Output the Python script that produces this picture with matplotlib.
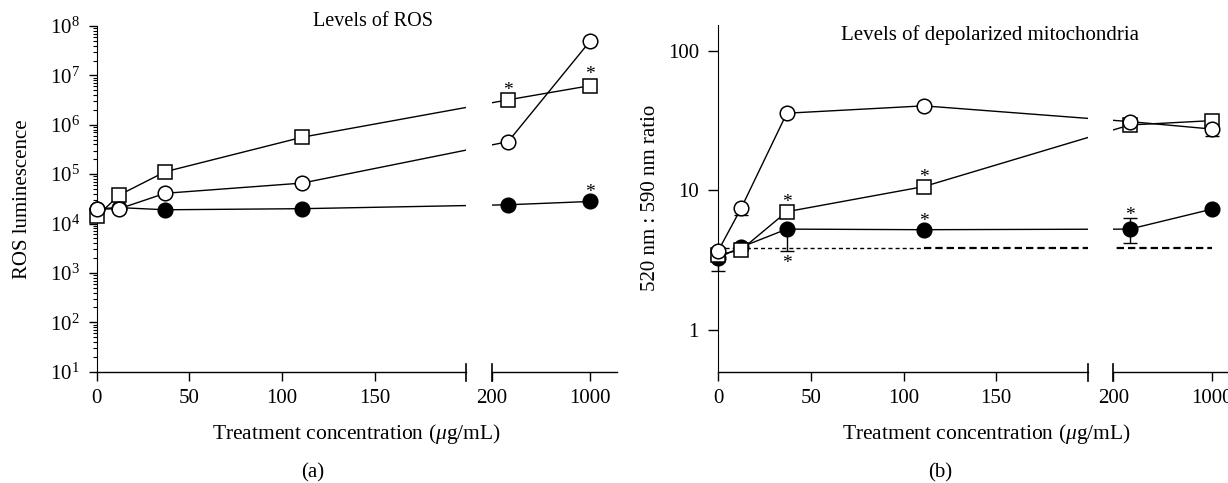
import numpy as np
import matplotlib
matplotlib.use('Agg')
import matplotlib.pyplot as plt
from matplotlib.ticker import FixedLocator, NullLocator, FuncFormatter

plt.rcParams['font.family'] = ['Liberation Serif', 'DejaVu Serif']
plt.rcParams['mathtext.fontset'] = 'custom'
plt.rcParams['mathtext.rm'] = 'Liberation Serif'
plt.rcParams['mathtext.it'] = 'Liberation Serif:italic'
plt.rcParams['font.size'] = 15
plt.rcParams['xtick.labelsize'] = 15
plt.rcParams['ytick.labelsize'] = 15

# treatment concentrations (ug/mL)
conc = [0, 12.3, 37, 111, 333, 1000]
xticks = [0, 50, 100, 150, 200, 1000]

# (a) ROS luminescence
ros_open = [1.95e4, 2.0e4, 4.1e4, 6.6e4, 4.55e5, 5.0e7]
ros_square = [1.4e4, 3.8e4, 1.12e5, 5.6e5, 3.2e6, 6.2e6]
ros_filled = [2.0e4, 2.1e4, 1.9e4, 2.0e4, 2.4e4, 2.8e4]

# (b) 520 nm : 590 nm ratio, with lower / upper error bounds
mito_open = [3.68, 7.4, 35.6, 40.2, 31.0, 27.4]
mito_open_lo = [3.68, 6.6, 35.6, 40.2, 31.0, 24.4]
mito_open_hi = [3.68, 7.4, 35.6, 40.2, 31.0, 27.4]
mito_square = [3.43, 3.73, 7.0, 10.6, 29.3, 31.5]
mito_filled = [3.27, 3.9, 5.25, 5.2, 5.25, 7.3]
mito_filled_lo = [2.65, 3.9, 3.68, 5.2, 4.17, 7.3]
mito_filled_hi = [3.27, 3.9, 5.25, 5.2, 6.3, 7.3]
baseline_x = [0, 111, 1000]
baseline_y = 3.87

# significance stars: (series, index, offset in px from marker centre)
stars_a = [('square', 4, 15), ('square', 5, 16), ('filled', 5, 14)]
stars_b = [('square', 2, 14), ('square', 3, 14), ('filled', 3, 13),
           ('filled', 4, 19), ('filled', 2, -29)]

# broken x axis: piecewise linear mapping (left part 0-199.4, right part 200-1214)
BRK_L, BRK_R, XMAX = 199.4, 200, 1214
XK = [-1000, 0, BRK_L, BRK_R, XMAX, 6000]
PK = [-1852, 0, 369.3, 395.0, 520.0, 520.0 + 4786 * 0.1233]


def fwd(v):
    return np.interp(v, XK, PK)


def inv(p):
    return np.interp(p, PK, XK)


def setup_xaxis(ax):
    ax.set_xscale('function', functions=(fwd, inv))
    ax.set_xlim(0, XMAX)
    ax.xaxis.set_major_locator(FixedLocator(xticks))
    ax.xaxis.set_minor_locator(NullLocator())
    ax.xaxis.set_major_formatter(FuncFormatter(lambda v, p: '%g' % v))
    ax.spines['bottom'].set_visible(False)
    ax.spines['top'].set_visible(False)
    ax.spines['right'].set_visible(False)
    tr = ax.get_xaxis_transform()
    ax.plot([0, BRK_L], [0, 0], color='k', lw=1.0, transform=tr, clip_on=False, zorder=5)
    ax.plot([BRK_R, XMAX], [0, 0], color='k', lw=1.0, transform=tr, clip_on=False, zorder=5)
    h = ax.get_position().height * 483
    for xb in (BRK_L, BRK_R):
        ax.plot([xb, xb], [-9 / h, 8 / h], color='k', lw=1.2, transform=tr,
                clip_on=False, zorder=5)
    ax.axvspan(BRK_L, BRK_R, color='white', lw=0, zorder=4)
    ax.tick_params(axis='x', direction='out', length=6.5, width=1.0, pad=6)
    ax.set_xlabel(r'Treatment concentration ($\mu$g/mL)', fontsize=15.5)


def series(ax, y, style):
    kw = dict(color='k', lw=1.0, markersize=10.5, markeredgewidth=1.1, clip_on=False)
    if style == 'open':
        ax.plot(conc, y, marker='o', markerfacecolor='white', zorder=3.2, **kw)
    elif style == 'square':
        kw['markersize'] = 10
        ax.plot(conc, y, marker='s', markerfacecolor='white', zorder=3.1, **kw)
    else:
        ax.plot(conc, y, marker='o', markerfacecolor='black', zorder=3.0, **kw)


def stars(ax, data, spec):
    for name, i, off in spec:
        ax.annotate('*', xy=(conc[i], data[name][i]), xytext=(0, off * 0.72 - 7),
                    textcoords='offset points', ha='center', va='baseline',
                    fontsize=14, zorder=6, annotation_clip=False)


fig = plt.figure(figsize=(12.28, 4.83), dpi=100)

# ---- (a) ----
ax_a = fig.add_axes([96.7 / 1228, 1 - 371.7 / 483, 520 / 1228, 345.7 / 483])
setup_xaxis(ax_a)
ax_a.set_yscale('log')
ax_a.set_ylim(10, 1e8)
ax_a.tick_params(axis='y', which='major', direction='out', length=6, width=1.0, pad=6)
ax_a.tick_params(axis='y', which='minor', direction='out', length=3, width=0.8)
series(ax_a, ros_filled, 'filled')
series(ax_a, ros_square, 'square')
series(ax_a, ros_open, 'open')
stars(ax_a, {'open': ros_open, 'square': ros_square, 'filled': ros_filled}, stars_a)
ax_a.set_ylabel('ROS luminescence', fontsize=15)
ax_a.yaxis.set_label_coords(-0.124, 0.5)
ax_a.xaxis.set_label_coords(0.5, -0.145)
ax_a.text(0.531, 1.014, 'Levels of ROS', transform=ax_a.transAxes,
          ha='center', va='center', fontsize=14.5, zorder=10)

# ---- (b) ----
ax_b = fig.add_axes([718.3 / 1228, 1 - 371.5 / 483, 520 / 1228, 346.5 / 483])
setup_xaxis(ax_b)
ax_b.set_yscale('log')
ax_b.set_ylim(0.5, 152.8)
ax_b.yaxis.set_major_locator(FixedLocator([1, 10, 100]))
ax_b.yaxis.set_minor_locator(NullLocator())
ax_b.yaxis.set_major_formatter(FuncFormatter(lambda v, p: '%g' % v))
ax_b.tick_params(axis='y', direction='out', length=7, width=1.0, pad=7)

ax_b.plot(baseline_x[:2], [baseline_y] * 2, color='k', lw=1.0,
          dashes=(2.9, 2.2), zorder=1.5)
ax_b.plot(baseline_x[1:], [baseline_y] * 2, color='k', lw=1.6,
          dashes=(3.3, 1.8), zorder=1.5)

for y, lo, hi in [(mito_open, mito_open_lo, mito_open_hi),
                  (mito_filled, mito_filled_lo, mito_filled_hi)]:
    y = np.array(y)
    err = [y - np.array(lo), np.array(hi) - y]
    ax_b.errorbar(conc, y, yerr=err, fmt='none', ecolor='k', elinewidth=1.0,
                  capsize=5, capthick=1.0, zorder=2, clip_on=False)

series(ax_b, mito_filled, 'filled')
series(ax_b, mito_square, 'square')
series(ax_b, mito_open, 'open')
stars(ax_b, {'open': mito_open, 'square': mito_square, 'filled': mito_filled}, stars_b)
ax_b.set_ylabel('520 nm : 590 nm ratio', fontsize=15)
ax_b.yaxis.set_label_coords(-0.112, 0.5)
ax_b.xaxis.set_label_coords(0.515, -0.145)
ax_b.text(0.522, 0.97, 'Levels of depolarized mitochondria', transform=ax_b.transAxes,
          ha='center', va='center', fontsize=15, zorder=10)

fig.text(313 / 1228, 1 - 473 / 483, '(a)', ha='center', va='center', fontsize=15)
fig.text(940 / 1228, 1 - 473 / 483, '(b)', ha='center', va='center', fontsize=15)

fig.savefig('out.png', dpi=100)
